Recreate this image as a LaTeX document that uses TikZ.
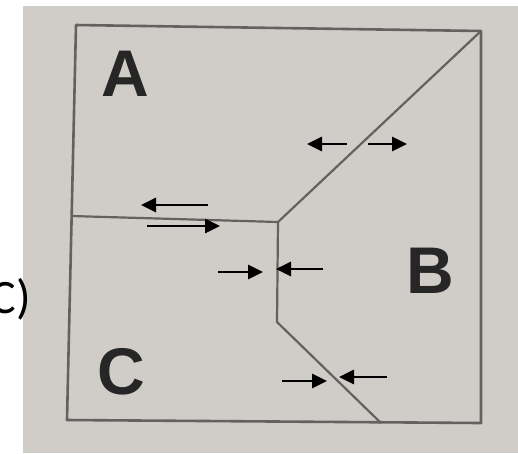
\documentclass[tikz,border=0pt]{standalone}
\usepackage{fontspec}
\setmainfont{Liberation Sans}
\newfontfamily\calfont{Carlito}
\usetikzlibrary{arrows.meta}
\definecolor{paper}{RGB}{208,205,201}
\definecolor{pencil}{RGB}{100,98,96}
\definecolor{ink}{RGB}{38,38,38}
\tikzset{
  border/.style={draw=pencil, line width=2.6pt, line join=round},
  boundary/.style={draw=pencil, line width=2.2pt, line join=round},
  force/.style={draw=black, line width=2.8pt, -{Triangle[length=15pt,width=14pt]}},
  region/.style={inner sep=0pt, text=ink, font=\fontsize{66}{66}\selectfont\bfseries},
  tag/.style={inner sep=0pt, font=\calfont\fontsize{48}{48}\selectfont}
}
\begin{document}
\begin{tikzpicture}[x=1pt,y=-1pt]
\useasboundingbox (0,0) rectangle (518,453);
\fill[paper] (23,6) rectangle (518,453);
% box corners
\coordinate (tl) at (76,25);
\coordinate (tr) at (481,31);
\coordinate (br) at (481,423);
\coordinate (bl) at (67,420);
% internal points
\coordinate (hl) at (71.6,216);
\coordinate (j) at (278,222);
\coordinate (k) at (277,322);
\coordinate (bb) at (381,423);
\draw[border] (tl) -- (tr) -- (br) -- (bl) -- cycle;
\draw[boundary] (hl) -- (j) -- (tr);
\draw[boundary] (j) -- (k) -- (bb);
% arrows near A-B boundary
\coordinate (a1s) at (347,144); \coordinate (a1e) at (307,144);
\coordinate (a2s) at (368,144); \coordinate (a2e) at (407,144);
\draw[force] (a1s) -- (a1e);
\draw[force] (a2s) -- (a2e);
% arrows near A-C boundary
\coordinate (a3s) at (208,205); \coordinate (a3e) at (141,205);
\coordinate (a4s) at (147,226); \coordinate (a4e) at (220,226);
\draw[force] (a3s) -- (a3e);
\draw[force] (a4s) -- (a4e);
% arrows near vertical B-C boundary
\coordinate (a5s) at (218,272); \coordinate (a5e) at (263,272);
\coordinate (a6s) at (323,269); \coordinate (a6e) at (276,269);
\draw[force] (a5s) -- (a5e);
\draw[force] (a6s) -- (a6e);
% arrows near slanted B-C boundary
\coordinate (a7s) at (282,381); \coordinate (a7e) at (327,381);
\coordinate (a8s) at (387,377); \coordinate (a8e) at (339,377);
\draw[force] (a7s) -- (a7e);
\draw[force] (a8s) -- (a8e);
% labels
\node[region] (la) at (125,74) {A};
\node[region] (lb) at (430,271) {B};
\node[region] (lc) at (121,372) {C};
\node[tag, anchor=base east] (lt) at (31,313) {C)};
\end{tikzpicture}
\end{document}
